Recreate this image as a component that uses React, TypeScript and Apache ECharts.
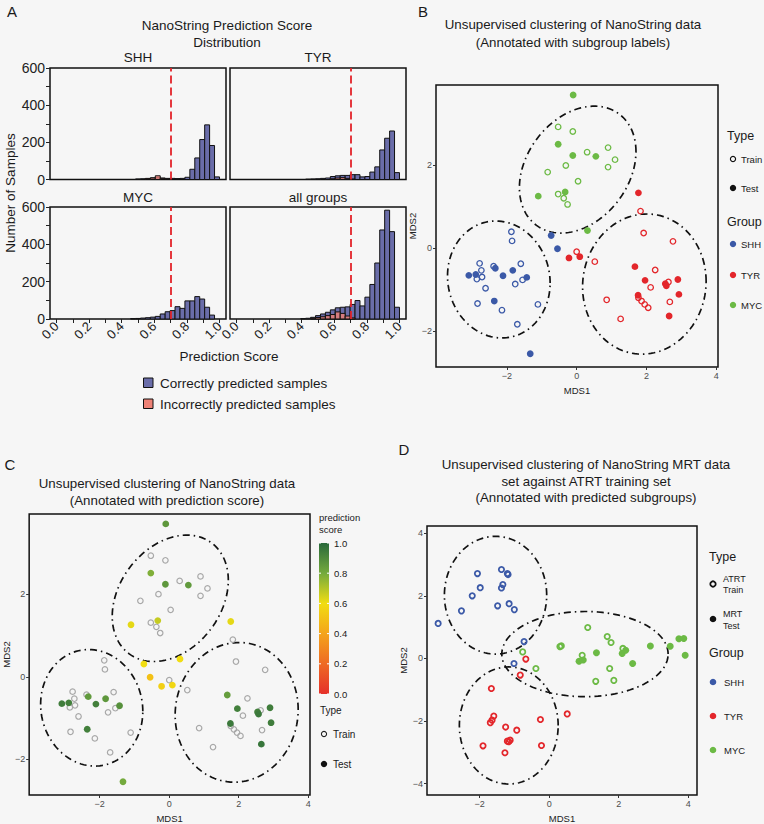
import React, { useEffect, useRef } from "react";
import * as echarts from "echarts";

const FONT = "'Liberation Sans', Arial, Helvetica, sans-serif";
const BG = "#F6F6F6";
const TXT = "#1a1a1a";

// ---------- Panel A: histogram data (33 bins of width 1/33 over 0..1) ----------
const BIN_WIDTH = 1 / 33;
const THRESHOLD = 0.7;
const shhCorrect = [0,0,0,0,0,0,0,0,0,0,0,0,0,0,0,0,3,4,6,9,10,8,6,6,5,6,12,55,116,215,294,183,14];
const shhIncorrect = [0,0,0,0,0,0,0,0,0,0,0,0,0,0,0,0,0,0,4,8,20,6,3,0,0,0,0,0,0,0,0,0,0];
const tyrCorrect = [0,0,0,0,0,0,0,0,0,0,0,0,0,0,2,3,4,6,8,16,20,22,22,26,26,14,16,40,68,159,222,261,37];
const tyrIncorrect = [0,0,0,0,0,0,0,0,0,0,0,0,0,0,0,0,0,0,0,4,8,10,6,3,0,0,0,0,0,0,0,0,0];
const mycCorrect = [0,0,0,0,0,0,0,0,0,0,0,0,0,0,0,2,3,5,7,10,14,27,39,45,66,57,97,97,120,107,63,21,0];
const mycIncorrect = [0,0,0,0,0,0,0,0,0,0,0,0,0,0,0,0,0,0,0,0,0,0,0,0,0,0,0,0,0,0,0,0,0];
const allCorrect = [0,0,0,0,0,0,0,0,0,0,0,0,0,2,4,9,18,27,36,49,60,63,65,78,99,70,117,185,300,477,583,468,63];
const allIncorrect = [0,0,0,0,0,0,0,0,0,0,0,0,0,0,0,4,8,12,18,24,38,30,16,6,0,0,0,0,0,0,0,0,0];
const histPanels = ["SHH", "TYR", "MYC", "all groups"];
const histXTicks = [0, 0.1, 0.2, 0.3, 0.4, 0.5, 0.6, 0.7, 0.8, 0.9, 1.0];
const histXLabels = [0, 0.2, 0.4, 0.6, 0.8, 1.0];
const histYTicks = [0, 100, 200, 300, 400, 500, 600];
const histYLabels = [0, 200, 400, 600];

// ---------- Panels B & C: MDS coordinates (test points carry prediction score) ----------
const shhTrain = [[-1.87,0.40],[-1.85,0.18],[-2.78,-0.36],[-2.38,-0.43],[-2.73,-0.53],[-1.60,-0.37],[-2.86,-0.74],[-2.71,-0.69],[-1.55,-0.76],[-1.76,-0.86],[-2.61,-0.96],[-2.84,-1.33],[-2.14,-1.49],[-1.11,-1.35],[-1.70,-1.83]];
const shhTest = [[-0.73,0.31,0.60],[-0.55,-0.01,0.50],[-2.33,-0.48,0.85],[-1.83,-0.53,0.86],[-3.09,-0.65,0.94],[-2.89,-0.63,0.93],[-2.11,-0.66,0.93],[-1.43,-0.70,0.88],[-2.36,-1.27,0.93],[-1.33,-2.54,0.80]];
const tyrTrain = [[1.83,0.90],[1.92,0.37],[2.76,0.17],[0.0,-0.08],[0.52,-0.32],[2.25,-0.52],[2.63,-0.81],[2.12,-0.94],[1.77,-1.19],[1.86,-1.27],[1.95,-1.35],[2.05,-1.43],[2.67,-1.29],[0.86,-1.24],[1.26,-1.70]];
const tyrTest = [[1.77,1.34,0.62],[-0.22,-0.23,0.55],[0.09,-0.20,0.58],[1.67,-0.44,0.84],[1.96,-0.77,0.93],[2.90,-0.75,0.94],[2.54,-0.85,0.93],[2.57,-0.90,0.95],[2.93,-1.11,0.94],[1.76,-1.13,0.95],[2.65,-1.63,0.96]];
const mycTrain = [[-0.53,2.93],[-0.11,2.82],[0.30,2.32],[0.90,2.43],[1.10,2.14],[-0.31,2.0],[0.90,1.96],[-0.83,1.84],[0.04,1.62],[-0.53,1.31],[-0.37,1.21],[-0.26,1.06]];
const mycTest = [[-0.10,3.70,0.86],[-0.53,2.51,0.78],[-0.11,2.24,0.86],[0.55,2.22,0.85],[-1.10,1.26,0.62],[-0.33,1.36,0.67],[0.31,0.43,0.60]];
// ellipses: [centerX, centerY, sdX, sdY, correlation]
const ellipsesBC = [[0.03,1.90,1.67,1.53,0.285],[-2.23,-0.75,1.47,1.41,-0.06],[1.94,-0.86,1.77,1.69,0.04]];
const mdsTicksX = [-2, 0, 2, 4];
const mdsTicksYBC = [-2, 0, 2];

// ---------- Panel D ----------
const dShhTrain = [[-2.06,2.71],[-1.37,2.84],[-1.20,2.71],[-1.18,2.68],[-1.98,2.26],[-1.33,2.36],[-1.37,2.25],[-2.21,2.0],[-1.48,1.68],[-1.15,1.75],[-1.00,1.56],[-2.52,1.52],[-3.19,1.12],[-0.72,0.54],[-1.01,-0.16]];
const dTyrTrain = [[-0.67,-0.02],[-0.83,-0.53],[-1.66,-0.96],[-1.59,-1.84],[-1.64,-1.97],[-1.69,-2.05],[-1.25,-2.19],[-0.93,-2.29],[-0.25,-1.95],[0.52,-1.77],[-1.90,-2.79],[-1.20,-2.64],[-1.12,-2.61],[-1.16,-2.66],[-0.22,-2.78],[-1.27,-3.01]];
const dMycTrain = [[1.11,0.99],[1.67,0.70],[1.78,0.51],[0.35,0.40],[0.31,0.38],[0.95,0.10],[2.12,0.32],[-0.76,0.21],[-0.38,-0.32],[1.74,-0.32],[1.34,-0.73],[1.86,-0.70]];
const dMycTest = [[0.86,-0.09],[0.98,-0.05],[1.36,0.18],[2.10,0.16],[2.20,0.26],[2.40,-0.16],[2.91,0.40],[3.48,0.39],[3.73,0.63],[3.87,0.64],[3.91,0.10]];
const ellipsesD = [[-1.54,2.02,1.47,1.88,0.0],[1.03,0.14,2.39,1.36,0.0],[-1.16,-2.14,1.42,1.87,0.0]];
const mdsTicksYD = [-4, -2, 0, 2, 4];

const groups = ["SHH", "TYR", "MYC"];
const colSHH = "#3B59A7";
const colTYR = "#E3262B";
const colMYC = "#6CBA45";
const groupColors = [colSHH, colTYR, colMYC];
const HIST_BLUE = "#6A6DA9";
const HIST_PINK = "rgba(238,128,118,0.82)";
const scoreColors = ["#E5302A", "#EE6A24", "#F4A41B", "#F1DD12", "#74AA3D", "#29693B"];
const colorbarTicks = [0, 0.2, 0.4, 0.6, 0.8, 1.0];

const TITLE_SIZE = 13.3;
const minus = (v: number) => (v < 0 ? "\u2212" + Math.abs(v) : String(v));

function histRender(fill: string) {
  return (params: any, api: any) => {
    const x0 = api.value(0), x1 = api.value(1), v = api.value(2);
    const p0 = api.coord([x0, v]);
    const p1 = api.coord([x1, 0]);
    return {
      type: "rect",
      shape: { x: p0[0], y: p0[1], width: p1[0] - p0[0], height: p1[1] - p0[1] },
      style: { fill, stroke: "#111", lineWidth: 1 },
    };
  };
}

function histSeries(gi: number, counts: number[], fill: string, z: number, withLine: boolean) {
  const data = counts
    .map((c, i) => [i * BIN_WIDTH, (i + 1) * BIN_WIDTH, c])
    .filter((d) => d[2] > 0);
  const s: any = {
    type: "custom",
    xAxisIndex: gi,
    yAxisIndex: gi,
    data,
    encode: { x: [0, 1], y: 2 },
    renderItem: histRender(fill),
    silent: true,
    z,
  };
  if (withLine) {
    s.markLine = {
      silent: true,
      symbol: ["none", "none"],
      label: { show: false },
      lineStyle: { color: "#E3242B", type: [8, 4], width: 1.8, opacity: 1 },
      data: [{ xAxis: THRESHOLD }],
      z: 10,
    };
  }
  return s;
}

function pts(gi: number, data: number[][], color: string, filled: boolean, size: number, bw: number, z = 4) {
  return {
    type: "scatter",
    xAxisIndex: gi,
    yAxisIndex: gi,
    data,
    symbol: "circle",
    symbolSize: size,
    silent: true,
    z,
    itemStyle: filled
      ? { color, borderWidth: 0, opacity: 1 }
      : { color: "rgba(0,0,0,0)", borderColor: color, borderWidth: bw, opacity: 1 },
  };
}

function ellipseSeries(gi: number, data: number[][]) {
  return {
    type: "custom",
    xAxisIndex: gi,
    yAxisIndex: gi,
    data,
    encode: { x: 0, y: 1 },
    silent: true,
    z: 3,
    renderItem: (params: any, api: any) => {
      const cx = api.value(0), cy = api.value(1), sx = api.value(2), sy = api.value(3), r = api.value(4);
      const k = Math.sqrt(1 - r * r);
      const points: number[][] = [];
      for (let i = 0; i <= 120; i++) {
        const t = (i / 120) * Math.PI * 2;
        points.push(api.coord([cx + sx * Math.cos(t), cy + sy * (r * Math.cos(t) + k * Math.sin(t))]));
      }
      return {
        type: "polyline",
        shape: { points },
        style: { stroke: "#111", lineWidth: 1.7, lineDash: [7, 4, 1.5, 4], fill: null },
      };
    },
  };
}

function txt(text: string, x: number, y: number, fontSize: number, align = "center", extra: any = {}) {
  return {
    type: "text",
    x,
    y,
    silent: true,
    ...extra,
    style: {
      text,
      fontSize,
      fontFamily: FONT,
      fill: extra.fill || TXT,
      align,
      verticalAlign: "middle",
      textAlign: align,
      textVerticalAlign: "middle",
    },
  };
}

function dot(x: number, y: number, r: number, color: string, filled: boolean, lw = 1.2) {
  return {
    type: "circle",
    silent: true,
    shape: { cx: x, cy: y, r },
    style: filled ? { fill: color } : { fill: "none", stroke: color, lineWidth: lw },
  };
}

function buildOption(): any {
  const gridBase = { show: true, borderColor: "#111", borderWidth: 1.5, backgroundColor: "transparent" };
  const grid = [
    { ...gridBase, left: 50, top: 68, width: 176, height: 111.5 },
    { ...gridBase, left: 230, top: 68, width: 176, height: 111.5 },
    { ...gridBase, left: 50, top: 207, width: 176, height: 112 },
    { ...gridBase, left: 230, top: 207, width: 176, height: 112 },
    { ...gridBase, left: 436, top: 85, width: 282, height: 282 },
    { ...gridBase, left: 27, top: 514, width: 283, height: 282 },
    { ...gridBase, left: 427, top: 526, width: 270, height: 269 },
  ];
  const noLine = { show: false, onZero: false };

  const xAxis: any[] = [];
  const yAxis: any[] = [];
  for (let i = 0; i < 4; i++) {
    const bottom = i >= 2;
    const left = i % 2 === 0;
    xAxis.push({
      type: "value", gridIndex: i, min: -0.04, max: 1.04, position: "bottom",
      axisLine: noLine, splitLine: { show: false },
      axisTick: { show: bottom, customValues: histXTicks, length: 4, lineStyle: { color: "#222", width: 1 } },
      axisLabel: {
        show: bottom, customValues: histXLabels, rotate: 45, fontSize: 13, color: "#222",
        fontFamily: FONT, margin: 5, formatter: (v: number) => Number(v).toFixed(1),
      },
    });
    yAxis.push({
      type: "value", gridIndex: i, min: 0, max: 600, position: "left",
      axisLine: noLine, splitLine: { show: false },
      axisTick: { show: left, customValues: histYTicks, length: 4, lineStyle: { color: "#222", width: 1 } },
      axisLabel: { show: left, customValues: histYLabels, fontSize: 14, color: "#222", fontFamily: FONT, margin: 5 },
    });
  }
  const mdsX = (gi: number, min: number, max: number) => ({
    type: "value", gridIndex: gi, min, max, position: "bottom",
    axisLine: noLine, splitLine: { show: false },
    axisTick: { customValues: mdsTicksX, length: 3, lineStyle: { color: "#333", width: 1 } },
    axisLabel: { customValues: mdsTicksX, fontSize: 9, color: "#4D4D4D", fontFamily: FONT, margin: 4, formatter: minus },
    name: "MDS1", nameLocation: "middle", nameGap: 18,
    nameTextStyle: { fontSize: 9.5, color: "#222", fontFamily: FONT },
  });
  const mdsY = (gi: number, min: number, max: number, ticks: number[]) => ({
    type: "value", gridIndex: gi, min, max, position: "left",
    axisLine: noLine, splitLine: { show: false },
    axisTick: { customValues: ticks, length: 3, lineStyle: { color: "#333", width: 1 } },
    axisLabel: { customValues: ticks, fontSize: 9, color: "#4D4D4D", fontFamily: FONT, margin: 4, formatter: minus },
    name: "MDS2", nameLocation: "middle", nameGap: 11,
    nameTextStyle: { fontSize: 9.5, color: "#222", fontFamily: FONT },
  });
  xAxis.push(mdsX(4, -4.03, 4.05));
  yAxis.push(mdsY(4, -2.86, 3.94, mdsTicksYBC));
  xAxis.push(mdsX(5, -4.03, 4.05));
  yAxis.push(mdsY(5, -2.86, 3.94, mdsTicksYBC));
  xAxis.push(mdsX(6, -3.51, 4.25));
  yAxis.push(mdsY(6, -4.36, 4.23, mdsTicksYD));

  const series: any[] = [];
  const hc = [shhCorrect, tyrCorrect, mycCorrect, allCorrect];
  const hi = [shhIncorrect, tyrIncorrect, mycIncorrect, allIncorrect];
  for (let i = 0; i < 4; i++) {
    series.push(histSeries(i, hc[i], HIST_BLUE, 2, false));
    series.push(histSeries(i, hi[i], HIST_PINK, 3, true));
  }

  // Panel B
  series.push(ellipseSeries(4, ellipsesBC));
  const trains = [shhTrain, tyrTrain, mycTrain];
  const tests = [shhTest, tyrTest, mycTest];
  for (let g = 0; g < 3; g++) {
    series.push(pts(4, trains[g], groupColors[g], false, 5.5, 1.3));
    series.push(pts(4, tests[g].map((d) => [d[0], d[1]]), groupColors[g], true, 6.8, 0));
  }

  // Panel C
  series.push(ellipseSeries(5, ellipsesBC));
  for (let g = 0; g < 3; g++) series.push(pts(5, trains[g], "#A8A8A8", false, 5.5, 1.2));
  const cTestIdx = series.length;
  series.push(pts(5, [...shhTest, ...tyrTest, ...mycTest], "#000", true, 6.8, 0, 5));

  // Panel D
  series.push(ellipseSeries(6, ellipsesD));
  series.push(pts(6, dShhTrain, colSHH, false, 5.3, 1.8));
  series.push(pts(6, dTyrTrain, colTYR, false, 5.3, 1.8));
  series.push(pts(6, dMycTrain, colMYC, false, 5.3, 1.8));
  series.push(pts(6, dMycTest, colMYC, true, 7, 0));

  // graphic: titles, labels, legends
  const g: any[] = [];
  g.push(txt("A", 12, 11, 15));
  g.push(txt("B", 423, 11, 15));
  g.push(txt("C", 10, 464, 15));
  g.push(txt("D", 404, 449, 15));
  g.push(txt("NanoString Prediction Score", 227, 25, 13.5));
  g.push(txt("Distribution", 227, 42, 13.5));
  g.push(txt(histPanels[0], 138, 57, 13.5));
  g.push(txt(histPanels[1], 318, 57, 13.5));
  g.push(txt(histPanels[2], 138, 197, 13.5));
  g.push(txt(histPanels[3], 318, 197, 13.5));
  g.push(txt("Number of Samples", 10, 193, 13.5, "center", { rotation: Math.PI / 2 }));
  g.push(txt("Prediction Score", 229, 356, 13.5));
  g.push({ type: "rect", silent: true, shape: { x: 143.5, y: 378, width: 9.5, height: 9.5 }, style: { fill: HIST_BLUE, stroke: "#111", lineWidth: 1 } });
  g.push(txt("Correctly predicted samples", 160, 383, 13.5, "left"));
  g.push({ type: "rect", silent: true, shape: { x: 143.5, y: 399, width: 9.5, height: 9.5 }, style: { fill: "#EE8276", stroke: "#111", lineWidth: 1 } });
  g.push(txt("Incorrectly predicted samples", 160, 404, 13.5, "left"));

  // B titles & legend
  g.push(txt("Unsupervised clustering of NanoString data", 573, 24, TITLE_SIZE));
  g.push(txt("(Annotated with subgroup labels)", 573, 42, TITLE_SIZE));
  g.push(txt("Type", 727, 136, 12.5, "left"));
  g.push(dot(733, 159, 2.6, "#111", false, 1.2));
  g.push(txt("Train", 741, 159, 9.5, "left"));
  g.push(dot(733, 188, 3.2, "#111", true));
  g.push(txt("Test", 741, 188, 9.5, "left"));
  g.push(txt("Group", 727, 222, 12.5, "left"));
  const yB = [244, 275, 305];
  for (let i = 0; i < 3; i++) {
    g.push(dot(733, yB[i], 3.2, groupColors[i], true));
    g.push(txt(groups[i], 741, yB[i], 9.5, "left"));
  }

  // C titles & legend
  g.push(txt("Unsupervised clustering of NanoString data", 167, 483, TITLE_SIZE));
  g.push(txt("(Annotated with prediction score)", 167, 500, TITLE_SIZE));
  g.push(txt("prediction", 319, 517, 9.5, "left"));
  g.push(txt("score", 319, 529, 9.5, "left"));
  const cbTop = 543, cbH = 151, cbX = 319, cbW = 10;
  g.push({
    type: "rect", silent: true,
    shape: { x: cbX, y: cbTop, width: cbW, height: cbH },
    style: {
      fill: {
        type: "linear", x: 0, y: 1, x2: 0, y2: 0,
        colorStops: scoreColors.map((c, i) => ({ offset: i / (scoreColors.length - 1), color: c })),
      },
    },
  });
  for (const v of colorbarTicks) {
    const y = cbTop + cbH - v * cbH;
    g.push({ type: "line", silent: true, shape: { x1: cbX, y1: y, x2: cbX + 2, y2: y }, style: { stroke: "#fff", lineWidth: 1 } });
    g.push({ type: "line", silent: true, shape: { x1: cbX + cbW - 2, y1: y, x2: cbX + cbW, y2: y }, style: { stroke: "#fff", lineWidth: 1 } });
    g.push(txt(v.toFixed(1), 334, y, 9.5, "left"));
  }
  g.push(txt("Type", 320, 710, 10, "left"));
  g.push(dot(324, 734, 2.6, "#222", false, 1.1));
  g.push(txt("Train", 333, 734, 10, "left"));
  g.push(dot(324, 764, 3.2, "#111", true));
  g.push(txt("Test", 333, 764, 10, "left"));

  // D titles & legend
  g.push(txt("Unsupervised clustering of NanoString MRT data", 586, 464, TITLE_SIZE));
  g.push(txt("set against ATRT training set", 586, 481, TITLE_SIZE));
  g.push(txt("(Annotated with predicted subgroups)", 586, 497, TITLE_SIZE));
  g.push(txt("Type", 709, 557, 12.5, "left"));
  g.push(dot(713, 584, 2.7, "#111", false, 1.8));
  g.push(txt("ATRT", 723, 578.5, 9, "left"));
  g.push(txt("Train", 723, 590, 9, "left"));
  g.push(dot(713, 619, 3.3, "#111", true));
  g.push(txt("MRT", 723, 614, 9, "left"));
  g.push(txt("Test", 723, 626, 9, "left"));
  g.push(txt("Group", 709, 653, 12.5, "left"));
  const yD = [682, 716, 750];
  for (let i = 0; i < 3; i++) {
    g.push(dot(713, yD[i], 3.3, groupColors[i], true));
    g.push(txt(groups[i], 724, yD[i], 9.5, "left"));
  }

  return {
    animation: false,
    backgroundColor: BG,
    textStyle: { fontFamily: FONT },
    grid,
    xAxis,
    yAxis,
    visualMap: [
      { type: "continuous", show: false, min: 0, max: 1, dimension: 2, seriesIndex: cTestIdx, inRange: { color: scoreColors } },
    ],
    series,
    graphic: g,
  };
}

export default function App() {
  const ref = useRef<HTMLDivElement>(null);
  useEffect(() => {
    document.body.style.margin = "0";
    document.body.style.background = BG;
    const chart = echarts.init(ref.current!, undefined, { renderer: "svg" });
    chart.setOption(buildOption());
    return () => chart.dispose();
  }, []);
  return <div ref={ref} style={{ width: 764, height: 824 }} />;
}
